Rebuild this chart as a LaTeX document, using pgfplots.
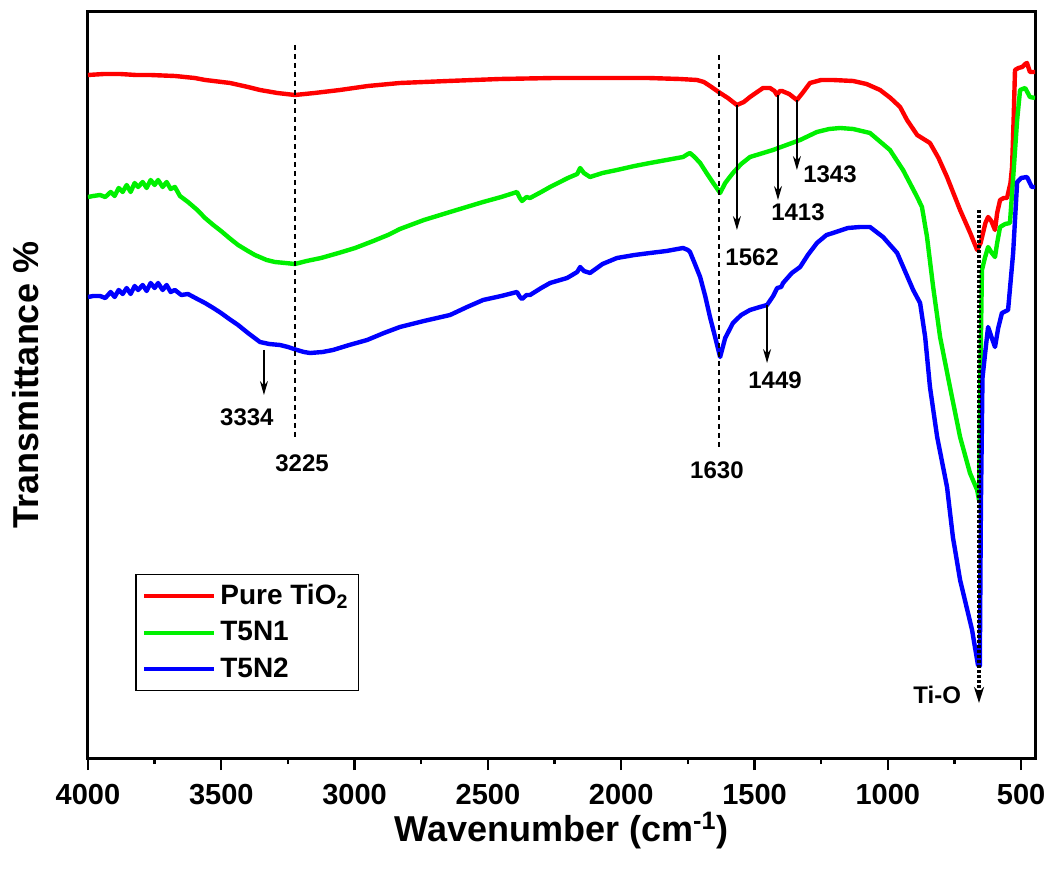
\documentclass[border=0pt]{standalone}
\usepackage{fontspec}
\setmainfont{Liberation Sans}
\usepackage{pgfplots}
\pgfplotsset{compat=1.18}
\usetikzlibrary{arrows.meta}

\begin{document}
\begin{tikzpicture}
\begin{axis}[
  name=ax, scale only axis, width=473.5pt, height=373pt,
  x dir=reverse, xmin=448, xmax=4000, ymin=0, ymax=746,
  xtick={500,1000,...,4000}, minor x tick num=1, ytick=\empty,
  xtick pos=bottom, tick align=outside,
  major tick length=6pt, minor tick length=3pt,
  every tick/.style={black, line width=1.2pt},
  axis line style={line width=1.5pt},
  /pgf/number format/assume math mode=true,
  /pgf/number format/set thousands separator={},
  tick label style={font=\bfseries\fontsize{14.5}{16}\selectfont},
  xticklabel style={yshift=-3.5pt},
  xlabel={Wavenumber (cm\textsuperscript{-1})},
  ylabel={Transmittance \%},
  label style={font=\bfseries\fontsize{18}{20}\selectfont},
  xlabel style={at={(axis description cs:0.5,-0.112)}, anchor=base},
  ylabel style={at={(axis description cs:-0.0655,0.5)}, anchor=center},
  legend style={at={(rel axis cs:0.05,0.247)}, anchor=north west, draw=black,
    line width=0.6pt, font=\bfseries\fontsize{14}{16}\selectfont,
    row sep=3pt, inner sep=3pt},
  legend cell align=left,
  legend image code/.code={\draw[#1] (0pt,0pt) -- (35pt,0pt);},
  every axis plot/.append style={line width=2.2pt, line join=round},
]
% Pure TiO2
\addplot[red] coordinates {
(4000,683)(3940,684)(3880,684)(3820,683)(3767,683)(3674,682)(3600,680)(3560,678)(3467,675)(3400,671)(3355,668)(3290,665)(3224,663)(3150,665)(3055,668)(2950,672)(2830,675)(2650,677)(2455,679)(2250,680)(2080,680)(1900,680)(1780,679)(1716,678)(1690,676)(1667,672)(1640,667)(1629,665)(1600,660)(1566,653)(1540,656)(1517,661)(1490,666)(1468,670)(1442,670)(1425,667)(1416,663)(1405,667)(1397,667)(1370,664)(1341,658)(1320,665)(1292,675)(1250,678)(1206,678)(1130,677)(1080,674)(1029,668)(990,660)(954,651)(928,638)(890,623)(842,615)(810,600)(778,581)(729,548)(691,525)(665,508)(652,515)(643,525)(634,535)(624,541)(612,537)(598,528)(590,545)(579,558)(565,560)(553,560)(540,575)(534,591)(528,640)(523,688)(510,690)(496,691)(485,694)(478,695)(472,690)(467,686)(448,686)
};
\addlegendentry{Pure TiO\textsubscript{2}}
% T5N1
\addplot[color={rgb,255:red,0;green,240;blue,0}] coordinates {
(4000,561)(3980,562)(3955,563)(3935,561)(3915,566)(3900,562)(3885,570)(3870,566)(3855,573)(3840,566)(3825,575)(3812,571)(3795,576)(3780,570)(3765,578)(3750,573)(3737,578)(3720,571)(3705,576)(3690,569)(3674,571)(3655,562)(3625,556)(3590,548)(3561,540)(3530,533)(3501,527)(3470,520)(3437,513)(3400,507)(3374,503)(3330,498)(3299,496)(3260,495)(3224,494)(3180,497)(3126,500)(3060,505)(2998,510)(2930,517)(2875,523)(2830,529)(2740,538)(2642,546)(2580,551)(2518,556)(2450,561)(2391,566)(2380,560)(2372,557)(2355,561)(2342,560)(2300,566)(2267,571)(2200,580)(2165,584)(2154,590)(2140,585)(2117,581)(2070,585)(2016,588)(1950,592)(1892,595)(1830,598)(1768,601)(1750,604)(1742,605)(1725,601)(1704,595)(1680,585)(1655,575)(1629,565)(1610,575)(1581,585)(1550,594)(1517,601)(1480,604)(1431,608)(1380,613)(1329,618)(1266,626)(1220,629)(1179,630)(1130,629)(1067,625)(992,608)(943,588)(890,561)(872,551)(853,521)(830,471)(804,421)(767,371)(729,321)(692,285)(665,268)(658,258)(652,400)(647,488)(636,500)(624,511)(610,505)(598,501)(590,515)(579,531)(560,534)(542,535)(530,580)(515,638)(504,668)(485,670)(475,665)(467,661)(448,660)
};
\addlegendentry{T5N1}
% T5N2
\addplot[blue] coordinates {
(4000,461)(3980,462)(3955,462)(3935,460)(3915,466)(3900,461)(3885,468)(3870,464)(3855,470)(3840,464)(3825,472)(3812,468)(3795,473)(3780,467)(3765,475)(3750,470)(3737,475)(3720,468)(3705,473)(3690,466)(3674,468)(3650,463)(3625,464)(3590,459)(3561,455)(3530,450)(3501,445)(3470,439)(3437,433)(3400,425)(3355,416)(3320,414)(3280,413)(3250,411)(3216,408)(3190,406)(3167,405)(3120,406)(3081,408)(3020,413)(2953,418)(2890,425)(2830,431)(2740,437)(2642,443)(2578,451)(2518,458)(2450,462)(2391,466)(2380,461)(2372,459)(2355,463)(2342,463)(2300,470)(2267,475)(2203,480)(2165,486)(2154,491)(2140,487)(2117,485)(2070,494)(2016,500)(1950,503)(1892,505)(1830,507)(1768,510)(1750,508)(1742,506)(1725,495)(1704,481)(1685,462)(1667,441)(1645,418)(1629,401)(1610,420)(1581,435)(1550,443)(1517,448)(1480,451)(1453,453)(1430,462)(1415,470)(1400,471)(1393,475)(1360,485)(1329,491)(1300,503)(1266,515)(1230,523)(1206,525)(1150,530)(1104,531)(1067,531)(1018,521)(965,505)(905,468)(879,455)(860,421)(842,371)(815,321)(778,271)(756,221)(729,178)(684,128)(662,93)(655,92)(651,250)(645,380)(635,405)(624,431)(610,420)(598,411)(586,430)(572,445)(549,448)(530,505)(515,576)(500,580)(478,581)(460,571)(448,571)
};
\addlegendentry{T5N2}

% guide lines
\draw[black, line width=1.2pt, dash pattern=on 2.5pt off 2pt] (axis cs:3224,713) -- (axis cs:3224,318);
\draw[black, line width=1.2pt, dash pattern=on 2.5pt off 2pt] (axis cs:1633,703) -- (axis cs:1633,311);
\draw[black, line width=1.6pt, dash pattern=on 1.5pt off 1pt, -{Stealth[length=8pt,width=5pt]}] (axis cs:658,548) -- (axis cs:658,55);
% peak arrows
\tikzset{pk/.style={black, line width=0.6pt, -{Stealth[length=7pt,width=4pt]}}}
\draw[pk] (axis cs:3340,408) -- (axis cs:3340,363);
\draw[pk] (axis cs:1566,653) -- (axis cs:1566,528);
\draw[pk] (axis cs:1412,663) -- (axis cs:1412,558);
\draw[pk] (axis cs:1341,658) -- (axis cs:1341,588);
\draw[pk] (axis cs:1453,453) -- (axis cs:1453,395);
% labels
\tikzset{lb/.style={font=\bfseries\fontsize{12}{14}\selectfont, inner sep=0pt}}
\node[lb] at (axis cs:3404,341) {3334};
\node[lb] at (axis cs:3197,295) {3225};
\node[lb] at (axis cs:1641,288) {1630};
\node[lb] at (axis cs:1509,501) {1562};
\node[lb] at (axis cs:1337,546) {1413};
\node[lb] at (axis cs:1217,584) {1343};
\node[lb] at (axis cs:1423,378) {1449};
\node[lb] at (axis cs:815,63) {Ti-O};
\end{axis}
\pgfresetboundingbox
\path[use as bounding box] ([xshift=-44pt,yshift=-60pt]ax.south west) rectangle ([xshift=6pt,yshift=6pt]ax.north east);
\end{tikzpicture}
\end{document}
